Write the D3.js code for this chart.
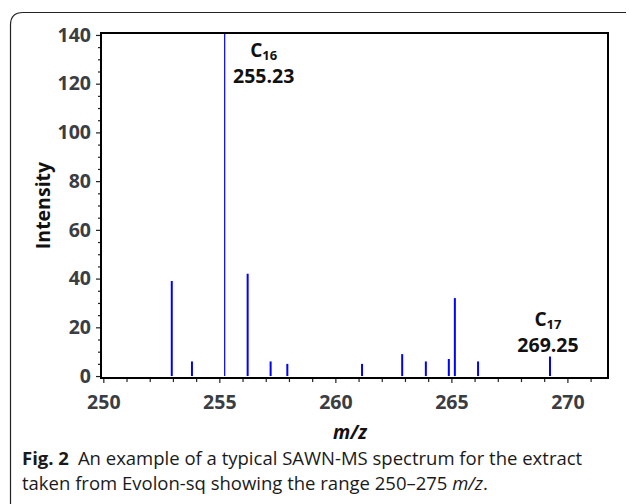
<!DOCTYPE html>
<html>
<head>
<meta charset="utf-8">
<script src="https://cdn.jsdelivr.net/npm/d3@7"></script>
<style>
  body { margin: 0; background: #fff; }
  svg { display: block; }
  text { font-family: "Open Sans", "Noto Sans", sans-serif; }
</style>
</head>
<body>
<svg id="chart" width="629" height="504"></svg>
<script>
// peak positions (m/z) and intensities
const mz_values = [252.95, 253.82, 255.23, 256.22, 257.21, 257.93, 261.15, 262.88, 263.90, 264.89, 265.15, 266.15, 269.25];
const intensity_values = [39, 6, 150, 42, 6, 5, 5, 9, 6, 7, 32, 6, 8];
const x_ticks = [250, 255, 260, 265, 270];
const y_ticks = [0, 20, 40, 60, 80, 100, 120, 140];
const peak_labels = [
  {mz: 255.23, sub: "16", text: "255.23", at: 140},
  {mz: 269.25, sub: "17", text: "269.25", at: 8}
];

const svg = d3.select('#chart');
const margin = {top: 33, right: 21, bottom: 126, left: 101};
const width = 629 - margin.left - margin.right;
const height = 504 - margin.top - margin.bottom;

// card border, rounded at the top-left
svg.append("path")
  .attr("d", "M10.5,504 L10.5,25 Q10.5,12.5 23,12.5 L626,12.5")
  .attr("fill", "none")
  .attr("stroke", "#222")
  .attr("stroke-width", 1.2);

const g = svg.append("g")
  .attr("transform", "translate(" + margin.left + "," + margin.top + ")");

const x_scale = d3.scaleLinear().domain([249.9, 271.75]).range([0, width]);
const y_scale = d3.scaleLinear().domain([-0.8, 140.8]).range([height, 0]);

g.append("clipPath").attr("id", "plot-clip")
  .append("rect").attr("width", width).attr("height", height);

// peaks as sticks
const peaks = mz_values.map((m, i) => ({mz: m, y: intensity_values[i]}));
g.append("g").attr("clip-path", "url(#plot-clip)")
  .selectAll("line").data(peaks).join("line")
  .attr("x1", d => x_scale(d.mz)).attr("x2", d => x_scale(d.mz))
  .attr("y1", y_scale(0)).attr("y2", d => y_scale(d.y))
  .attr("stroke", "#0000ff")
  .attr("stroke-width", d => d.y > 100 ? 1.2 : 2);

// minor ticks
const x_minor = d3.range(250, 272, 1).filter(v => !x_ticks.includes(v));
const y_minor = d3.range(0, 141, 5).filter(v => !y_ticks.includes(v));

const x_axis = g.append("g")
  .attr("transform", "translate(0," + height + ")")
  .call(d3.axisBottom(x_scale).tickValues(x_ticks).tickSize(5).tickPadding(12).tickFormat(d3.format("d")));
g.append("g")
  .attr("transform", "translate(0," + height + ")")
  .call(d3.axisBottom(x_scale).tickValues(x_minor).tickSize(4).tickFormat(""))
  .call(a => a.select(".domain").remove());

const y_axis = g.append("g")
  .call(d3.axisLeft(y_scale).tickValues(y_ticks).tickSize(5).tickPadding(5));
g.append("g")
  .call(d3.axisLeft(y_scale).tickValues(y_minor).tickSize(3).tickFormat(""))
  .call(a => a.select(".domain").remove());

g.selectAll(".tick line").attr("stroke", "#222").attr("stroke-width", 1.2);
[x_axis, y_axis].forEach(a => {
  a.select(".domain").remove();
  a.selectAll("text")
    .attr("fill", "#3a3d42")
    .style("font-size", "19.5px")
    .style("font-weight", "700");
});

// plot frame
g.append("rect")
  .attr("width", width).attr("height", height)
  .attr("fill", "none").attr("stroke", "#000").attr("stroke-width", 2);

// peak annotations (one text element, two lines)
peak_labels.forEach(function(p) {
  const cx = x_scale(p.mz) + (p.at > 100 ? 39 : -2);
  const y0 = p.at > 100 ? 24 : y_scale(p.at) - 31;
  const t = g.append("text")
    .attr("x", cx).attr("y", y0)
    .attr("text-anchor", "middle")
    .style("font-weight", "700").attr("fill", "#111");
  const l1 = t.append("tspan").attr("x", cx).style("font-size", "19px");
  l1.append("tspan").text("C");
  l1.append("tspan").attr("dy", 3).style("font-size", "13px").text(p.sub);
  t.append("tspan").attr("x", cx).attr("dy", 23)
    .style("font-size", "19.5px").text(p.text);
});

// axis titles
svg.append("text")
  .attr("transform", "translate(50," + (margin.top + height / 2) + ") rotate(-90)")
  .attr("text-anchor", "middle")
  .style("font-size", "19.5px").style("font-weight", "700").attr("fill", "#111")
  .text("Intensity");

svg.append("text")
  .attr("x", 350).attr("y", 439)
  .attr("text-anchor", "middle")
  .style("font-size", "19px").style("font-weight", "700").style("font-style", "italic")
  .attr("fill", "#111")
  .text("m/z");

// figure caption
const cap1 = svg.append("text").attr("x", 22).attr("y", 465)
  .style("font-size", "18.5px").attr("fill", "#1a1a1a");
cap1.append("tspan").style("font-weight", "700").text("Fig. 2");
cap1.append("tspan").attr("dx", 9).text("An example of a typical SAWN-MS spectrum for the extract");

const cap2 = svg.append("text").attr("x", 22).attr("y", 490)
  .style("font-size", "18.5px").attr("fill", "#1a1a1a");
cap2.append("tspan").text("taken from Evolon-sq showing the range 250–275 ");
cap2.append("tspan").style("font-style", "italic").text("m/z");
cap2.append("tspan").text(".");
</script>
</body>
</html>
